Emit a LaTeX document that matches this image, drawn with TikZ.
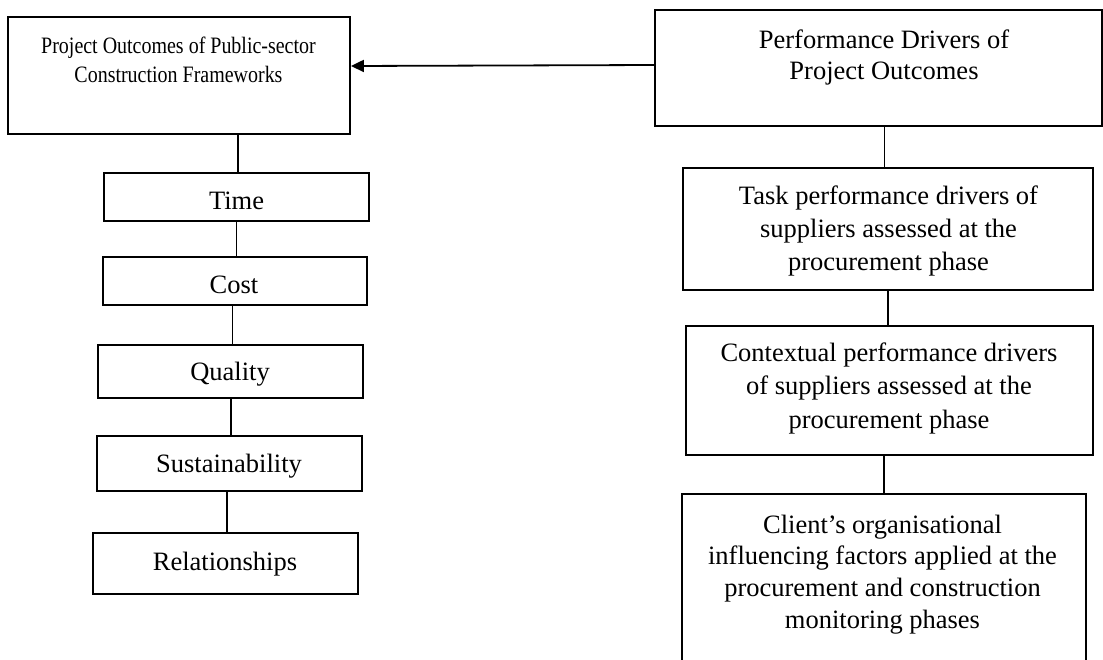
\documentclass[tikz,border=0pt]{standalone}
\usepackage{fontspec}
\setmainfont{Liberation Serif}
\newfontfamily\narrowfont[FakeStretch=0.85]{Liberation Serif}
\usetikzlibrary{arrows.meta,calc}
\newcommand{\mylines}[3]{\fontsize{#1}{#2}\selectfont\begin{tabular}[t]{@{}c@{}}#3\end{tabular}}
\tikzset{
  box/.style={draw=black, line width=1.8pt, rectangle, inner sep=0pt, fill=white},
  txt/.style={inner sep=0pt, anchor=base, font=\fontsize{26.5}{33}\selectfont},
  link/.style={draw=black, line width=1.8pt},
  arr/.style={link, -{Triangle[length=13pt,width=12pt]}}
}
\begin{document}
\begin{tikzpicture}[x=1pt,y=-1pt]
\useasboundingbox (0,0) rectangle (1103,659);
\clip (0,0) rectangle (1103,659);
\fill[white] (0,0) rectangle (1103,659);
% left column boxes
\node[box, minimum width=342pt, minimum height=117pt] (lb) at (179,75.5) {};
\node[box, minimum width=265pt, minimum height=48pt] (time) at (236.5,197) {};
\node[box, minimum width=264pt, minimum height=48pt] (cost) at (235,281) {};
\node[box, minimum width=265pt, minimum height=53pt] (qual) at (230.5,371.5) {};
\node[box, minimum width=265pt, minimum height=55pt] (sust) at (229.5,463.5) {};
\node[box, minimum width=265pt, minimum height=61pt] (rel) at (225.5,563.5) {};
% right column boxes
\node[box, minimum width=447pt, minimum height=116pt] (rb) at (878.5,68) {};
\node[box, minimum width=410pt, minimum height=122pt] (task) at (888,229) {};
\node[box, minimum width=407pt, minimum height=129pt] (ctx) at (889.5,390.5) {};
\node[box, minimum width=404pt, minimum height=206pt] (cli) at (884,597) {};
% texts
\node[txt] (lbt) at (178.5,53) {\narrowfont\mylines{23.5}{29}{Project Outcomes of Public-sector\\Construction Frameworks}};
\node[txt] (timet) at (236.5,209) {Time};
\node[txt] (costt) at (234,293) {Cost};
\node[txt] (qualt) at (230,380) {Quality};
\node[txt] (sustt) at (229,472) {Sustainability};
\node[txt] (relt) at (225,570) {Relationships};
\node[txt] (rbt) at (884,48) {\mylines{26.5}{31}{Performance Drivers of\\Project Outcomes}};
\node[txt] (taskt) at (888.5,204) {\mylines{26.5}{33}{Task performance drivers of\\suppliers assessed at the\\procurement phase}};
\node[txt] (ctxt) at (889,361) {\mylines{26.5}{33.5}{Contextual performance drivers\\of suppliers assessed at the\\procurement phase}};
\node[txt] (clit) at (882.5,533) {\mylines{26.5}{31.7}{Client’s organisational\\influencing factors applied at the\\procurement and construction\\monitoring phases}};
% connectors
\draw[arr] ($(rb.west)+(0,-3)$) -- ($(lb.east)+(0,-9.5)$);
\draw[link] ([xshift=1.5pt]time.north) -- ([xshift=1.5pt]time.north |- lb.south);
\draw[link] ([xshift=1.5pt]cost.north) -- ([xshift=1.5pt]cost.north |- time.south);
\draw[link] ([xshift=2pt]qual.north) -- ([xshift=2pt]qual.north |- cost.south);
\draw[link] ([xshift=1.5pt]sust.north) -- ([xshift=1.5pt]sust.north |- qual.south);
\draw[link] ([xshift=1.5pt]rel.north) -- ([xshift=1.5pt]rel.north |- sust.south);
\draw[link] ([xshift=6pt]rb.south) -- ([xshift=6pt]rb.south |- task.north);
\draw[link] (task.south) -- (task.south |- ctx.north);
\draw[link] (cli.north) -- (cli.north |- ctx.south);
\end{tikzpicture}
\end{document}
